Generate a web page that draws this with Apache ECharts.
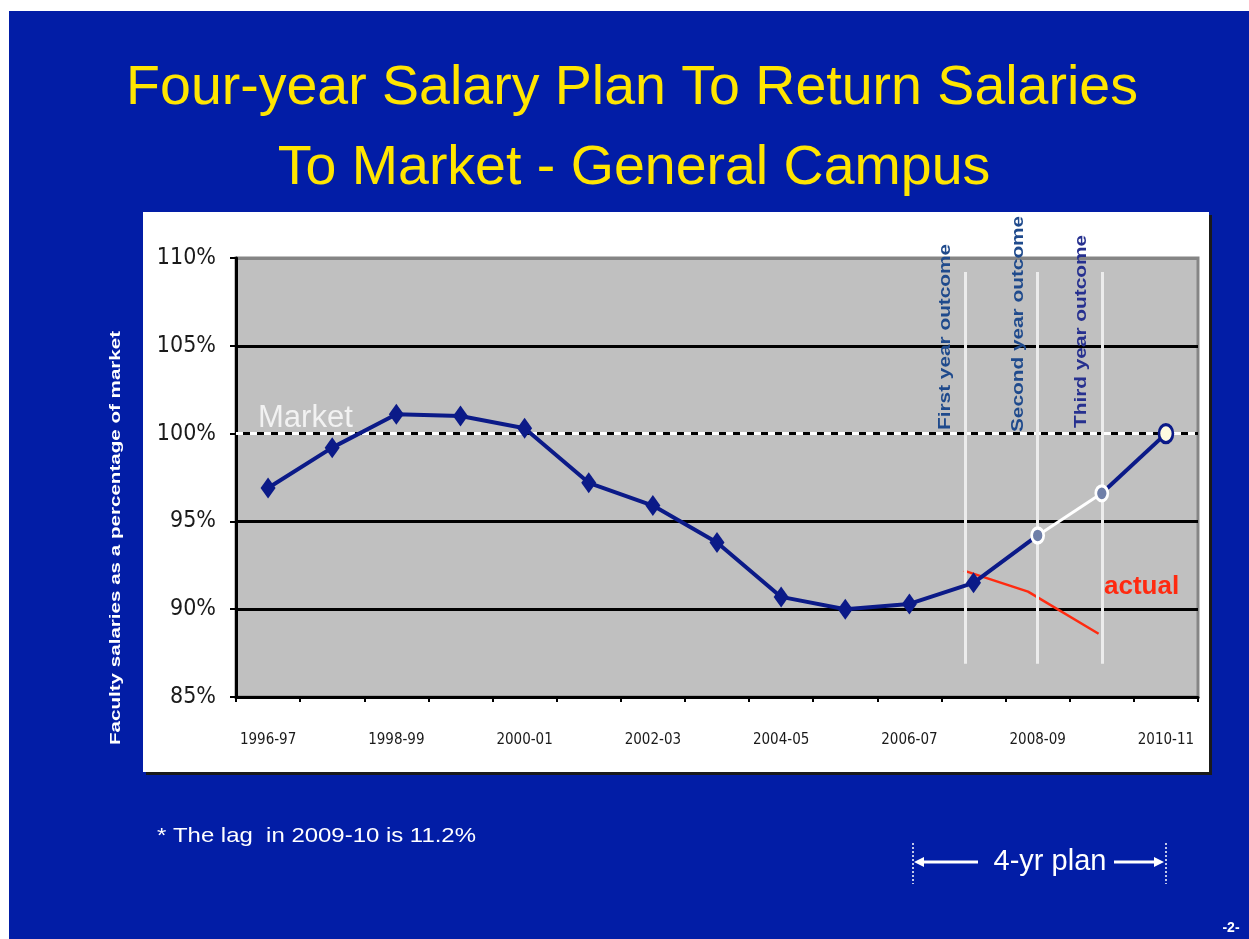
<!DOCTYPE html>
<html><head><meta charset="utf-8">
<script src="https://cdn.jsdelivr.net/npm/echarts@6/dist/echarts.min.js"></script>
<style>
html,body{margin:0;padding:0;background:#fff;}
#wrap{position:relative;width:1249px;height:939px;overflow:hidden;}
#bg{position:absolute;left:9px;top:11px;right:0;bottom:0;background:#021da6;}
#shadow{position:absolute;left:146px;top:215px;width:1066px;height:560px;background:#1a1a1a;}
#box{position:absolute;left:143px;top:212px;width:1066px;height:560px;background:#fff;}
#c{position:absolute;left:0;top:0;width:1249px;height:939px;}
</style>
</head><body>
<div id="wrap"><div id="bg"></div><div id="shadow"></div><div id="box"></div><div id="c"></div></div>
<script>
// ---- data ----
const categories = ['1996-97','1997-98','1998-99','1999-00','2000-01','2001-02','2002-03','2003-04','2004-05','2005-06','2006-07','2007-08','2008-09','2009-10','2010-11'];
const planValues = [96.9, 99.2, 101.1, 101.0, 100.3, 97.2, 95.9, 93.8, 90.7, 90.0, 90.3, 91.5, 94.2, 96.6, 100.0];
const actualPositions = [10.85, 11.85, 12.95];   // position in category units
const actualValues = [92.2, 91.0, 88.6];
const marketValue = 100;
const yMin = 85, yMax = 110, yStep = 5;
const outcomeLabels = ['First year outcome', 'Second year outcome', 'Third year outcome'];
const outcomePositions = [10.87, 12.0, 13.0];
const outcomeRange = [86.9, 109.2];

const NAVY = '#0b1a88';
const NARROW = '"Liberation Sans Narrow", "DejaVu Sans Condensed", "Liberation Sans", sans-serif';
const chart = echarts.init(document.getElementById('c'));

const n = categories.length;
const actualIdx = 12; // first projected year
const navy1 = planValues.map((v, i) => i <= actualIdx ? {value: v, symbol: i < actualIdx ? 'diamond' : 'none'} : null);
const whiteSeg = planValues.map((v, i) => (i === actualIdx || i === actualIdx + 1) ? v : null);
const navy2 = planValues.map((v, i) => i >= actualIdx + 1 ? {value: v, symbol: i === n - 1 ? 'circle' : 'none'} : null);

const option = {
  animation: false,
  backgroundColor: 'transparent',
  grid: {left: 236, top: 258, right: 51, bottom: 242, show: true, backgroundColor: '#c0c0c0', borderColor: '#858585', borderWidth: 3},
  xAxis: [{
    type: 'category', data: categories, boundaryGap: true,
    axisLine: {onZero: false, lineStyle: {color: '#000', width: 3}},
    axisTick: {show: true, interval: 0, length: 5, lineStyle: {color: '#000', width: 2}},
    axisLabel: {interval: 1, margin: 36, color: '#1a1a1a', fontFamily: NARROW, fontSize: 15},
    splitLine: {show: false}
  }, {
    type: 'value', min: -0.5, max: n - 0.5, show: false
  }],
  yAxis: {
    type: 'value', min: yMin, max: yMax, interval: yStep,
    axisLine: {show: true, onZero: false, lineStyle: {color: '#000', width: 3}},
    axisTick: {show: true, length: 6, lineStyle: {color: '#000', width: 2}},
    axisLabel: {margin: 20, color: '#1a1a1a', formatter: '{value}%', fontFamily: NARROW, fontSize: 23},
    splitLine: {show: true, lineStyle: {color: ['#000', '#000', '#000', '#000', '#000', '#858585'], width: 3}}
  },
  series: [
    { // market dashed overlay
      type: 'line', data: [], xAxisIndex: 0,
      markLine: {silent: true, symbol: 'none', label: {show: false},
        lineStyle: {color: '#ffffff', width: 3, type: [7, 7]},
        data: [{yAxis: marketValue}]}
    },
    { // outcome vertical lines
      type: 'line', data: [], xAxisIndex: 1, z: 3,
      markLine: {silent: true, symbol: 'none', label: {show: false},
        lineStyle: {color: '#ececec', width: 3, type: 'solid'},
        data: outcomePositions.map(p => [{coord: [p, outcomeRange[0]]}, {coord: [p, outcomeRange[1]]}])}
    },
    {
      name: 'actual', type: 'line', xAxisIndex: 1, z: 4,
      data: actualPositions.map((p, i) => [p, actualValues[i]]),
      symbol: 'none', lineStyle: {color: '#ff2a10', width: 2.5}
    },
    {
      type: 'line', data: navy1, z: 5, symbolSize: [15, 21],
      lineStyle: {color: NAVY, width: 4}, itemStyle: {color: NAVY}
    },
    {
      type: 'line', data: navy2, z: 5, symbol: 'circle', symbolSize: [14, 18],
      lineStyle: {color: NAVY, width: 4},
      itemStyle: {color: '#fffbe0', borderColor: NAVY, borderWidth: 3}
    },
    {
      type: 'line', data: whiteSeg, z: 6, symbol: 'circle', symbolSize: [12, 15],
      lineStyle: {color: '#ffffff', width: 3},
      itemStyle: {color: '#6f7fa8', borderColor: '#ffffff', borderWidth: 3}
    }
  ],
  graphic: [
    {type: 'text', x: 632, y: 89, z: 100, style: {text: 'Four-year Salary Plan To Return Salaries', font: '55.5px "Liberation Sans", Arial, sans-serif', fill: '#ffe500', textAlign: 'center', textVerticalAlign: 'middle'}},
    {type: 'text', x: 634, y: 169, z: 100, style: {text: 'To Market - General Campus', font: '55.5px "Liberation Sans", Arial, sans-serif', fill: '#ffe500', textAlign: 'center', textVerticalAlign: 'middle'}},
    {type: 'text', x: 116, y: 745, rotation: Math.PI / 2, scaleX: 1.47, z: 100, style: {text: 'Faculty salaries as a percentage of market', font: 'bold 14px "Liberation Sans", Arial, sans-serif', fill: '#ffffff', textAlign: 'left', textVerticalAlign: 'middle'}},
    {type: 'text', x: 258, y: 434, z: 100, style: {text: 'Market', font: '31px "Liberation Sans", Arial, sans-serif', fill: '#f2f2f2', textAlign: 'left', textVerticalAlign: 'bottom'}},
    {type: 'text', x: 946, y: 430, rotation: Math.PI / 2, scaleX: 1.3, z: 100, style: {text: outcomeLabels[0], font: 'bold 16px "Liberation Sans", Arial, sans-serif', fill: '#1f4a8c', textAlign: 'left', textVerticalAlign: 'middle'}},
    {type: 'text', x: 1019, y: 432, rotation: Math.PI / 2, scaleX: 1.3, z: 100, style: {text: outcomeLabels[1], font: 'bold 16px "Liberation Sans", Arial, sans-serif', fill: '#1f4a8c', textAlign: 'left', textVerticalAlign: 'middle'}},
    {type: 'text', x: 1082, y: 428, rotation: Math.PI / 2, scaleX: 1.3, z: 100, style: {text: outcomeLabels[2], font: 'bold 16px "Liberation Sans", Arial, sans-serif', fill: '#26308f', textAlign: 'left', textVerticalAlign: 'middle'}},
    {type: 'text', x: 1104, y: 600, z: 100, style: {text: 'actual', font: 'bold 26px "Liberation Sans", Arial, sans-serif', fill: '#ff2a10', textAlign: 'left', textVerticalAlign: 'bottom'}},
    {type: 'text', x: 157, y: 836, scaleX: 1.14, z: 100, style: {text: '* The lag  in 2009-10 is 11.2%', font: '21px "Liberation Sans", Arial, sans-serif', fill: '#ffffff', textAlign: 'left', textVerticalAlign: 'middle'}},
    {type: 'text', x: 1050, y: 862, z: 100, style: {text: '4-yr plan', font: '29px "Liberation Sans", Arial, sans-serif', fill: '#ffffff', textAlign: 'center', textVerticalAlign: 'middle'}},
    {type: 'line', z: 100, shape: {x1: 918, y1: 862, x2: 978, y2: 862}, style: {stroke: '#fff', lineWidth: 3}},
    {type: 'polygon', z: 100, shape: {points: [[914, 862], [924, 857], [924, 867]]}, style: {fill: '#fff'}},
    {type: 'line', z: 100, shape: {x1: 1114, y1: 862, x2: 1158, y2: 862}, style: {stroke: '#fff', lineWidth: 3}},
    {type: 'polygon', z: 100, shape: {points: [[1164, 862], [1154, 857], [1154, 867]]}, style: {fill: '#fff'}},
    {type: 'line', z: 100, shape: {x1: 913, y1: 843, x2: 913, y2: 884}, style: {stroke: '#fff', lineWidth: 1.5, lineDash: [2, 2]}},
    {type: 'line', z: 100, shape: {x1: 1166, y1: 843, x2: 1166, y2: 884}, style: {stroke: '#fff', lineWidth: 1.5, lineDash: [2, 2]}},
    {type: 'text', x: 1231, y: 928, z: 100, style: {text: '-2-', font: 'bold 14px "Liberation Sans", Arial, sans-serif', fill: '#ffffff', textAlign: 'center', textVerticalAlign: 'middle'}}
  ]
};
chart.setOption(option);
</script>
</body></html>
